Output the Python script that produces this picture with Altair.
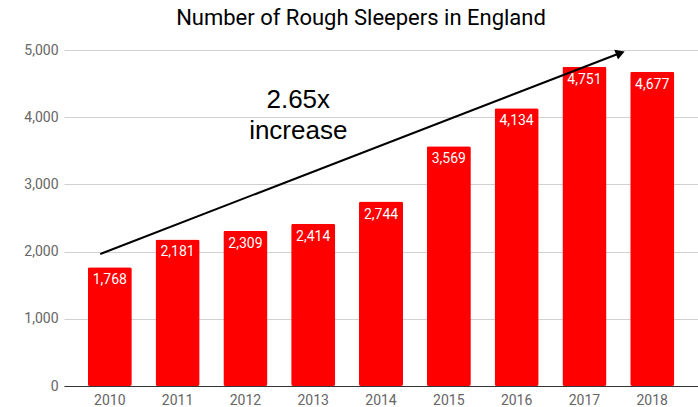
import altair as alt
import pandas as pd

years = ["2010", "2011", "2012", "2013", "2014", "2015", "2016", "2017", "2018"]
sleepers = [1768, 2181, 2309, 2414, 2744, 3569, 4134, 4751, 4677]

# annotation arrow (in year / value units)
arrow_x = [2009.86, 2017.53]
arrow_y = [1965, 4955]
note_lines = ["2.65x", "increase"]
note_x = [2012.78, 2012.78]
note_y = [4250, 3790]

df = pd.DataFrame({"year": years, "value": sleepers})
df["label"] = [f"{v:,}" for v in sleepers]
arrow_df = pd.DataFrame({"x": arrow_x, "y": arrow_y, "order": [0, 1]})
head_df = pd.DataFrame({"x": [arrow_x[1]], "y": [arrow_y[1]]})
note_df = pd.DataFrame({"text": note_lines, "x": note_x, "y": note_y})

FONT = "Roboto"
yscale = alt.Scale(domain=[0, 5000])
xq = alt.Scale(domain=[2009.325, 2018.675], nice=False, zero=False)

bars = alt.Chart(df).mark_bar(color="#ff0000", cornerRadius=2).encode(
    x=alt.X("year:N", sort=years, title=None,
            scale=alt.Scale(paddingInner=0.35, paddingOuter=0.35),
            axis=alt.Axis(labelAngle=0, ticks=False, domain=True, domainColor="#333333",
                          labelColor="#666666", labelFontSize=14, labelFont=FONT,
                          labelPadding=7, grid=False)),
    y=alt.Y("value:Q", scale=yscale, title=None,
            axis=alt.Axis(values=[0, 1000, 2000, 3000, 4000, 5000], format=",d",
                          ticks=False, domain=False, labelColor="#666666",
                          labelFontSize=14, labelFont=FONT, labelPadding=6,
                          gridColor="#d0d0d0")),
)

labels = alt.Chart(df).mark_text(color="white", font=FONT, fontSize=14,
                                  baseline="middle", dy=13).encode(
    x=alt.X("year:N", sort=years),
    y=alt.Y("value:Q", scale=yscale),
    text="label:N",
)

base_layer = alt.layer(bars, labels)

arrow = alt.Chart(arrow_df).mark_line(color="black", strokeWidth=2).encode(
    x=alt.X("x:Q", scale=xq, axis=None),
    y=alt.Y("y:Q", scale=yscale),
    order="order:Q",
)
head = alt.Chart(head_df).mark_point(shape="triangle-right", filled=True, color="black",
                                     size=110, opacity=1, angle=339).encode(
    x=alt.X("x:Q", scale=xq, axis=None),
    y=alt.Y("y:Q", scale=yscale),
)
note = alt.Chart(note_df).mark_text(font="Liberation Sans", fontSize=26, color="black",
                                    baseline="middle").encode(
    x=alt.X("x:Q", scale=xq, axis=None),
    y=alt.Y("y:Q", scale=yscale),
    text="text:N",
)

chart = alt.layer(base_layer, arrow, head, note).resolve_scale(x="independent").properties(
    width=634, height=336,
    title=alt.TitleParams("Number of Rough Sleepers in England", font=FONT, fontSize=22,
                          fontWeight="normal", color="black", anchor="middle",
                          dx=-20, offset=13),
    autosize=alt.AutoSizeParams(type="none"),
    padding={"left": 64, "top": 50, "right": 0, "bottom": 21},
).configure_view(stroke=None)

chart.save("out.html", embed_options={"renderer": "svg", "actions": False})
